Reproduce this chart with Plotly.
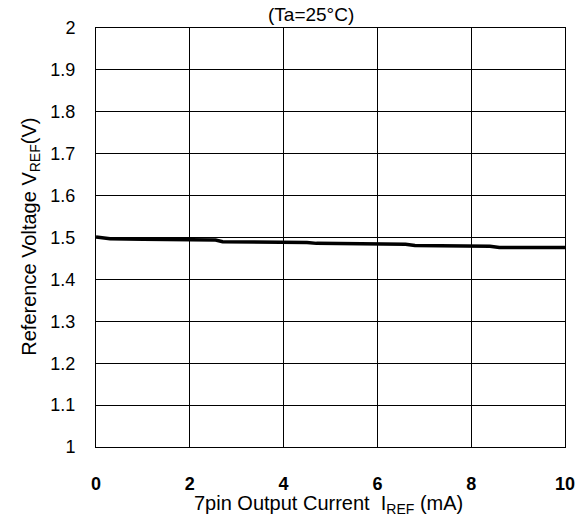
import plotly.graph_objects as go

# Reference voltage vs 7pin output current (Ta=25°C)
current_ma = [0.0, 0.3, 1.0, 2.0, 2.55, 2.7, 4.0, 4.5, 4.7, 6.0, 6.6, 6.8, 8.0, 8.4, 8.6, 10.0]
vref_v = [1.501, 1.497, 1.496, 1.495, 1.494, 1.490, 1.489, 1.488, 1.486, 1.485, 1.484, 1.481, 1.480, 1.479, 1.476, 1.476]

x_ticks = [0, 2, 4, 6, 8, 10]
y_ticks = [1, 1.1, 1.2, 1.3, 1.4, 1.5, 1.6, 1.7, 1.8, 1.9, 2]

family = "Arial"
font = dict(family=family, size=20, color="black")
note_font = dict(family=family, size=19, color="black")
tick_font = dict(family=family, size=18, color="black")

# plot area in pixels, used to place the free-standing labels
L, R, T, B = 96, 570, 28, 447


def px_x(p):
    return (p - L) / (R - L)


def px_y(p):
    return (B - p) / (B - T)


fig = go.Figure()
fig.add_trace(go.Scatter(
    x=current_ma, y=vref_v, mode="lines",
    line=dict(color="black", width=3.5, shape="linear"),
    showlegend=False,
))

fig.update_layout(
    width=587, height=520,
    margin=dict(l=L, r=587 - R, t=T, b=520 - B),
    paper_bgcolor="white", plot_bgcolor="white",
    font=font,
    xaxis=dict(
        range=[0, 10], tickvals=x_ticks, ticktext=[f"<b>{v}</b>" for v in x_ticks],
        tickfont=tick_font,
        showgrid=True, gridcolor="black", gridwidth=1,
        showline=True, linecolor="black", linewidth=1, mirror=True,
        ticks="", ticklabelstandoff=20, zeroline=False,
    ),
    yaxis=dict(
        range=[1, 2], tickvals=y_ticks, ticktext=[f"{v:g}" for v in y_ticks],
        tickfont=tick_font,
        showgrid=True, gridcolor="black", gridwidth=1,
        showline=True, linecolor="black", linewidth=1, mirror=True,
        ticks="", ticklabelstandoff=16, zeroline=False,
    ),
    annotations=[
        dict(text="(Ta=25°C)", x=px_x(313), y=px_y(15),
             xref="paper", yref="paper", xanchor="center", yanchor="middle",
             showarrow=False, font=note_font),
        dict(text="7pin Output Current  I<sub>REF</sub> (mA)", x=px_x(331), y=px_y(504),
             xref="paper", yref="paper", xanchor="center", yanchor="middle",
             showarrow=False, font=font),
        dict(text="Reference Voltage V<sub>REF</sub>(V)", x=px_x(29), y=px_y(237),
             xref="paper", yref="paper", xanchor="center", yanchor="middle",
             textangle=-90, showarrow=False, font=font),
    ],
)

fig.write_html("out.html")
